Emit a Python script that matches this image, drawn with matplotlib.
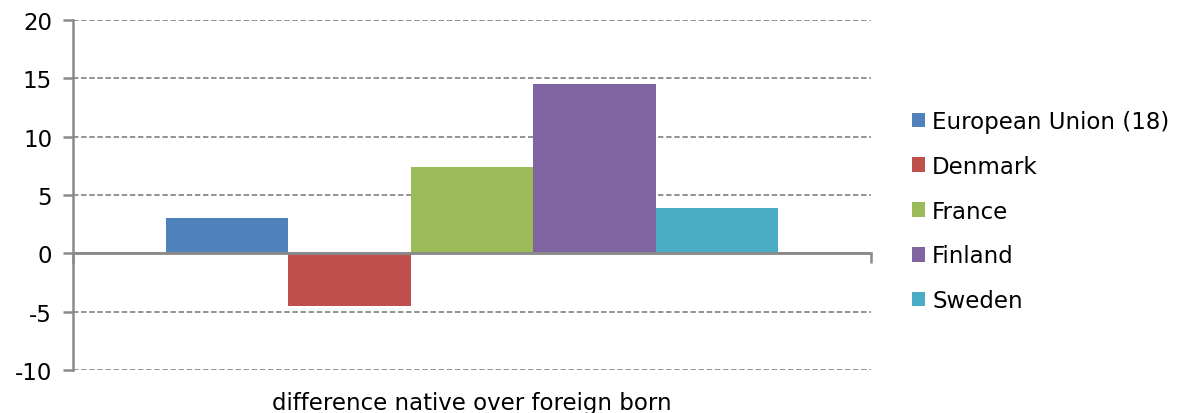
import matplotlib.pyplot as plt

# Data
countries = ['European Union (18)', 'Denmark', 'France', 'Finland', 'Sweden']
values = [3.0, -4.5, 7.4, 14.5, 3.9]
colors = ['#4F81BD', '#C0504D', '#9BBB59', '#8064A2', '#4BACC6']
category = 'difference native over foreign born'
yticks = [-10, -5, 0, 5, 10, 15, 20]

plt.rcParams['font.family'] = ['DejaVu Sans']
fs = 16.5

fig = plt.figure(figsize=(11.91, 4.14), dpi=100)
ax = fig.add_axes([0.0613, 0.104, 0.67, 0.845])

n = len(values)
width = 0.767 / n
for i, (name, val, col) in enumerate(zip(countries, values, colors)):
    ax.bar((i - (n - 1) / 2) * width, val, width, color=col, label=name, zorder=2)

ax.set_xlim(-0.5, 0.5)
ax.set_ylim(-10, 20)
ax.set_yticks(yticks)
ax.set_yticklabels([str(t) for t in yticks])

gray = '#8a8a8a'
ax.yaxis.grid(True, color=gray, linestyle=(0, (3, 1.5)), linewidth=1.3, zorder=0)
ax.axhline(0, color=gray, linewidth=1.8, zorder=3)

for s in ['top', 'right']:
    ax.spines[s].set_visible(False)
ax.spines['left'].set_color(gray)
ax.spines['left'].set_linewidth(1.8)
ax.spines['bottom'].set_position(('data', 0))
ax.spines['bottom'].set_color(gray)
ax.spines['bottom'].set_linewidth(1.8)

ax.set_xticks([-0.5, 0.5])
ax.set_xticklabels(['', ''])
ax.tick_params(axis='x', colors=gray, length=7, width=1.8, direction='out')
ax.tick_params(axis='y', colors=gray, length=7, width=1.8, direction='out',
               labelcolor='black', labelsize=fs, pad=8)

ax.text(0.5, -0.093, category, transform=ax.transAxes, ha='center', va='center',
        fontsize=fs)

ax.legend(loc='center left', bbox_to_anchor=(1.025, 0.454), frameon=False,
          fontsize=fs, handlelength=0.6, handleheight=0.6, handletextpad=0.3,
          labelspacing=0.95)

fig.savefig('out.png', dpi=100)
